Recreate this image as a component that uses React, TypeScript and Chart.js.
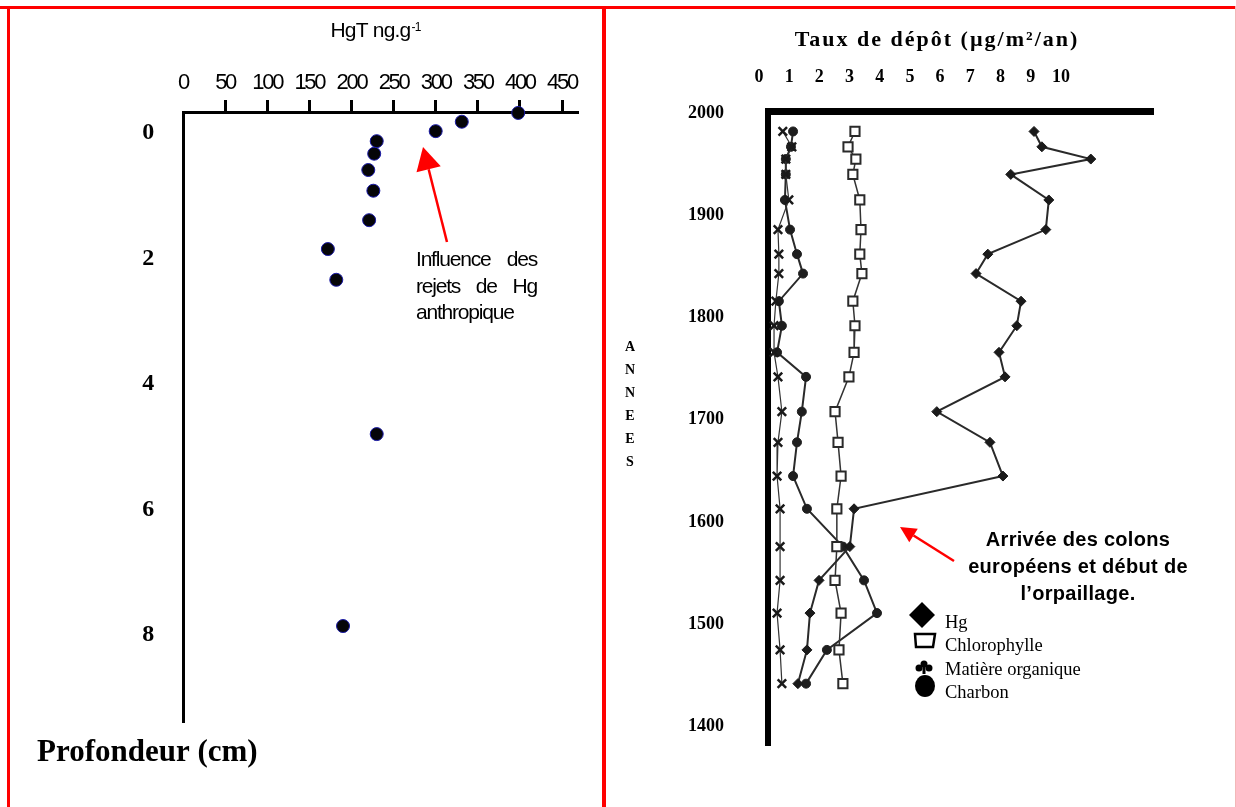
import React, { useEffect, useRef } from 'react';
import { Chart, registerables } from 'chart.js';

Chart.register(...registerables);

// ---------- Left panel: HgT vs depth ----------
const profondeur = [-0.32, -0.18, -0.03, 0.13, 0.33, 0.59, 0.92, 1.39, 1.85, 2.34, 4.8, 7.86];
const hgT = [398, 331, 300, 230, 227, 220, 226, 221, 172, 182, 230, 190];
const hgTTicks = [0, 50, 100, 150, 200, 250, 300, 350, 400, 450];
const profondeurTicks = [0, 2, 4, 6, 8];

// ---------- Right panel: deposition rates vs years ----------
const annees = [1982, 1967, 1955, 1940, 1915, 1886, 1862, 1843, 1816, 1792, 1766, 1742, 1708, 1678, 1645, 1613, 1576, 1543, 1511, 1475, 1442];
const hg = [9.11, 9.37, 10.99, 8.34, 9.6, 9.5, 7.58, 7.19, 8.68, 8.54, 7.95, 8.15, 5.89, 7.65, 8.08, 3.15, 3.01, 1.99, 1.69, 1.59, 1.29];
const chlorophylle = [3.18, 2.95, 3.21, 3.11, 3.34, 3.38, 3.34, 3.41, 3.11, 3.18, 3.15, 2.98, 2.52, 2.62, 2.72, 2.58, 2.58, 2.52, 2.72, 2.65, 2.78];
const matiereOrganique = [0.79, 1.09, 0.89, 0.89, 0.99, 0.63, 0.66, 0.66, 0.56, 0.5, 0.5, 0.63, 0.76, 0.63, 0.6, 0.7, 0.7, 0.7, 0.6, 0.7, 0.76];
const charbon = [1.13, 1.06, 0.89, 0.89, 0.86, 1.03, 1.26, 1.46, 0.66, 0.76, 0.6, 1.56, 1.42, 1.26, 1.13, 1.59, 2.78, 3.48, 3.91, 2.25, 1.56];
const tauxTicks = [0, 1, 2, 3, 4, 5, 6, 7, 8, 9, 10];
const anneeTicks = [1400, 1500, 1600, 1700, 1800, 1900, 2000];

const W = 1236;
const H = 807;
const SANS = '"Liberation Sans", Arial, sans-serif';
const SERIF = '"Liberation Serif", "Times New Roman", serif';
const RED = '#ff0000';

function drawArrow(ctx: CanvasRenderingContext2D, x1: number, y1: number, x2: number, y2: number, headLen: number, headW: number, width: number) {
  const ang = Math.atan2(y2 - y1, x2 - x1);
  const bx = x2 - headLen * Math.cos(ang);
  const by = y2 - headLen * Math.sin(ang);
  ctx.strokeStyle = RED;
  ctx.fillStyle = RED;
  ctx.lineWidth = width;
  ctx.beginPath();
  ctx.moveTo(x1, y1);
  ctx.lineTo(bx, by);
  ctx.stroke();
  ctx.beginPath();
  ctx.moveTo(x2, y2);
  ctx.lineTo(bx + (headW / 2) * Math.sin(ang), by - (headW / 2) * Math.cos(ang));
  ctx.lineTo(bx - (headW / 2) * Math.sin(ang), by + (headW / 2) * Math.cos(ang));
  ctx.closePath();
  ctx.fill();
}

function justified(ctx: CanvasRenderingContext2D, text: string, x0: number, x1: number, y: number) {
  const words = text.split(' ');
  const widths = words.map((w) => ctx.measureText(w).width);
  const total = widths.reduce((a, b) => a + b, 0);
  const gap = words.length > 1 ? (x1 - x0 - total) / (words.length - 1) : 0;
  let x = x0;
  ctx.textAlign = 'left';
  words.forEach((w, i) => {
    ctx.fillText(w, x, y);
    x += widths[i] + gap;
  });
}

const leftDecor = {
  id: 'leftDecor',
  beforeDraw(chart: any) {
    // condensed look of the original tick labels
    (chart.ctx as any).letterSpacing = '-2.3px';
  },
  afterDraw(chart: any) {
    const ctx: CanvasRenderingContext2D = chart.ctx;
    (ctx as any).letterSpacing = '0px';
    ctx.save();
    ctx.fillStyle = '#000';
    ctx.textBaseline = 'alphabetic';
    // axis title with superscript
    (ctx as any).letterSpacing = '-0.8px';
    ctx.font = `21px ${SANS}`;
    const main = 'HgT ng.g';
    const wMain = ctx.measureText(main).width;
    ctx.font = `12px ${SANS}`;
    const sup = '-1';
    const wSup = ctx.measureText(sup).width;
    const x0 = 375 - (wMain + wSup) / 2;
    ctx.font = `21px ${SANS}`;
    ctx.textAlign = 'left';
    ctx.fillText(main, x0, 37);
    ctx.font = `12px ${SANS}`;
    ctx.fillText(sup, x0 + wMain + 1, 31);

    // annotation text
    ctx.font = `21px ${SANS}`;
    (ctx as any).letterSpacing = '-1.2px';
    justified(ctx, 'Influence des', 416, 537, 266);
    justified(ctx, 'rejets de Hg', 416, 537, 293);
    ctx.textAlign = 'left';
    ctx.fillText('anthropique', 416, 319);
    (ctx as any).letterSpacing = '0px';

    drawArrow(ctx, 447, 242, 423, 147, 23, 25, 2.5);

    // depth label
    ctx.fillStyle = '#000';
    ctx.font = `bold 31px ${SERIF}`;
    ctx.textAlign = 'left';
    ctx.fillText('Profondeur (cm)', 37, 761);
    ctx.restore();
  },
};

const rightDecor = {
  id: 'rightDecor',
  afterDraw(chart: any) {
    const ctx: CanvasRenderingContext2D = chart.ctx;
    ctx.save();
    ctx.fillStyle = '#000';
    ctx.textBaseline = 'alphabetic';
    // axis title
    ctx.font = `bold 22px ${SERIF}`;
    (ctx as any).letterSpacing = '2px';
    ctx.textAlign = 'center';
    ctx.fillText('Taux de dépôt (µg/m²/an)', 937, 46);
    (ctx as any).letterSpacing = '0px';

    // vertical stacked ANNEES
    ctx.font = `bold 14px ${SERIF}`;
    ctx.textBaseline = 'middle';
    const letters = 'ANNEES'.split('');
    letters.forEach((c, i) => ctx.fillText(c, 630, 347 + i * 23));

    // annotation
    ctx.textBaseline = 'alphabetic';
    ctx.font = `bold 20px ${SANS}`;
    (ctx as any).letterSpacing = '0.3px';
    ctx.fillText('Arrivée des colons', 1078, 546);
    ctx.fillText('européens et début de', 1078, 573);
    ctx.fillText('l\u2019orpaillage.', 1078, 600);
    (ctx as any).letterSpacing = '0px';

    drawArrow(ctx, 954, 561, 900, 527, 16, 16, 2.5);

    // legend
    const ds = chart.data.datasets;
    ctx.fillStyle = '#000';
    ctx.strokeStyle = '#000';
    // Hg diamond
    ctx.beginPath();
    ctx.moveTo(922, 602);
    ctx.lineTo(935, 615);
    ctx.lineTo(922, 628);
    ctx.lineTo(909, 615);
    ctx.closePath();
    ctx.fill();
    // Chlorophylle open square
    ctx.lineWidth = 2.5;
    ctx.beginPath();
    ctx.moveTo(915, 634);
    ctx.lineTo(935, 634);
    ctx.lineTo(933, 647);
    ctx.lineTo(916, 647);
    ctx.closePath();
    ctx.stroke();
    // Matière organique flower
    ctx.beginPath();
    ctx.arc(919, 668, 3.5, 0, Math.PI * 2);
    ctx.arc(929, 668, 3.5, 0, Math.PI * 2);
    ctx.fill();
    ctx.beginPath();
    ctx.arc(924, 664, 3.5, 0, Math.PI * 2);
    ctx.fill();
    ctx.fillRect(922.5, 664, 3, 10);
    // Charbon circle
    ctx.beginPath();
    ctx.ellipse(925, 686, 10, 11, 0, 0, Math.PI * 2);
    ctx.fill();

    ctx.font = `18.5px ${SERIF}`;
    ctx.textAlign = 'left';
    const baselines = [628, 651, 675, 698];
    ds.forEach((d: any, i: number) => ctx.fillText(d.label, 945, baselines[i]));
    ctx.restore();
  },
};

export default function App() {
  const leftRef = useRef<HTMLCanvasElement>(null);
  const rightRef = useRef<HTMLCanvasElement>(null);

  useEffect(() => {
    const left = new Chart(leftRef.current as HTMLCanvasElement, {
      type: 'scatter',
      data: {
        datasets: [
          {
            label: 'HgT',
            data: hgT.map((v, i) => ({ x: v, y: profondeur[i] })),
            pointRadius: 6.5,
            pointBackgroundColor: '#050508',
            pointBorderColor: '#1a1aa8',
            pointBorderWidth: 1,
            clip: false as any,
          },
        ],
      },
      options: {
        responsive: false,
        animation: false,
        events: [],
        layout: { padding: { left: 0, top: 0, right: W - 577, bottom: H - 722 } },
        plugins: { legend: { display: false }, tooltip: { enabled: false }, title: { display: false } },
        scales: {
          x: {
            type: 'linear',
            position: 'top',
            min: 0,
            max: 467.8,
            afterBuildTicks: (s: any) => {
              s.ticks = hgTTicks.map((v) => ({ value: v }));
            },
            afterFit: (s: any) => {
              s.height = 112;
            },
            grid: {
              display: true,
              drawOnChartArea: false,
              drawTicks: true,
              tickLength: 12,
              lineWidth: 3,
              color: (c: any) => (c.tick && c.tick.value === 0 ? 'rgba(0,0,0,0)' : '#000'),
            },
            border: { display: true, color: '#000', width: 3 },
            ticks: {
              color: '#000',
              font: { family: SANS, size: 22 },
              padding: 4,
              autoSkip: false,
              maxRotation: 0,
              callback: (v: any) => String(v),
            },
          },
          y: {
            type: 'linear',
            position: 'left',
            reverse: true,
            min: -0.335,
            max: 9.39,
            afterBuildTicks: (s: any) => {
              s.ticks = profondeurTicks.map((v) => ({ value: v }));
            },
            afterFit: (s: any) => {
              s.width = 183;
            },
            grid: { display: false, drawTicks: false },
            border: { display: true, color: '#000', width: 3 },
            ticks: {
              color: '#000',
              font: { family: SERIF, size: 24, weight: 'bold' },
              padding: 31,
              autoSkip: false,
              callback: (v: any) => String(v),
            },
          },
        },
      },
      plugins: [leftDecor],
    } as any);

    const mk = (vals: number[]) => vals.map((v, i) => ({ x: v, y: annees[i] }));

    const right = new Chart(rightRef.current as HTMLCanvasElement, {
      type: 'scatter',
      data: {
        datasets: [
          {
            label: 'Hg',
            data: mk(hg),
            showLine: true,
            borderColor: '#2a2a2a',
            borderWidth: 2,
            pointStyle: 'rectRot',
            pointRadius: 5,
            pointBackgroundColor: '#1a1a1a',
            pointBorderColor: '#1a1a1a',
            pointBorderWidth: 1,
          },
          {
            label: 'Chlorophylle',
            data: mk(chlorophylle),
            showLine: true,
            borderColor: '#333',
            borderWidth: 1.5,
            pointStyle: 'rect',
            pointRadius: 6.5,
            pointBackgroundColor: '#fff',
            pointBorderColor: '#2a2a2a',
            pointBorderWidth: 2,
          },
          {
            label: 'Matière organique',
            data: mk(matiereOrganique),
            showLine: true,
            borderColor: '#333',
            borderWidth: 1.2,
            pointStyle: 'crossRot',
            pointRadius: 6,
            pointBorderColor: '#1a1a1a',
            pointBorderWidth: 2.5,
          },
          {
            label: 'Charbon',
            data: mk(charbon),
            showLine: true,
            borderColor: '#2a2a2a',
            borderWidth: 2,
            pointStyle: 'circle',
            pointRadius: 4.5,
            pointBackgroundColor: '#1e1e1e',
            pointBorderColor: '#1e1e1e',
            pointBorderWidth: 1,
          },
        ],
      },
      options: {
        responsive: false,
        animation: false,
        events: [],
        layout: { padding: { left: 0, top: 0, right: W - 1153, bottom: H - 745 } },
        plugins: { legend: { display: false }, tooltip: { enabled: false }, title: { display: false } },
        scales: {
          x: {
            type: 'linear',
            position: 'top',
            min: 0.3,
            max: 13.05,
            afterBuildTicks: (s: any) => {
              s.ticks = tauxTicks.map((v) => ({ value: v }));
            },
            afterFit: (s: any) => {
              s.height = 111;
            },
            grid: { display: false, drawTicks: false },
            border: { display: true, color: '#000', width: 7 },
            ticks: {
              color: '#000',
              font: { family: SERIF, size: 18, weight: 'bold' },
              padding: 23,
              autoSkip: false,
              maxRotation: 0,
              callback: (v: any) => String(v),
            },
          },
          y: {
            type: 'linear',
            position: 'left',
            min: 1382,
            max: 2002,
            afterBuildTicks: (s: any) => {
              s.ticks = anneeTicks.map((v) => ({ value: v }));
            },
            afterFit: (s: any) => {
              s.width = 768;
            },
            grid: { display: false, drawTicks: false },
            border: { display: true, color: '#000', width: 6 },
            ticks: {
              color: '#000',
              font: { family: SERIF, size: 18, weight: 'bold' },
              padding: 44,
              autoSkip: false,
              callback: (v: any) => String(v),
            },
          },
        },
      },
      plugins: [rightDecor],
    } as any);

    return () => {
      left.destroy();
      right.destroy();
    };
  }, []);

  const line = (l: number, t: number, w: number, h: number, c = RED) => (
    <div style={{ position: 'absolute', left: l, top: t, width: w, height: h, background: c }} />
  );

  return (
    <div style={{ position: 'absolute', left: 0, top: 0, width: W, height: H, background: '#fff', overflow: 'hidden' }}>
      <canvas ref={leftRef} width={W} height={H} style={{ position: 'absolute', left: 0, top: 0, width: W, height: H }} />
      <canvas ref={rightRef} width={W} height={H} style={{ position: 'absolute', left: 0, top: 0, width: W, height: H }} />
      {line(0, 6, W, 3)}
      {line(7, 6, 3, H - 6)}
      {line(602, 6, 4, H - 6)}
      {line(1235, 6, 1, H - 6, '#f2b8b8')}
    </div>
  );
}
